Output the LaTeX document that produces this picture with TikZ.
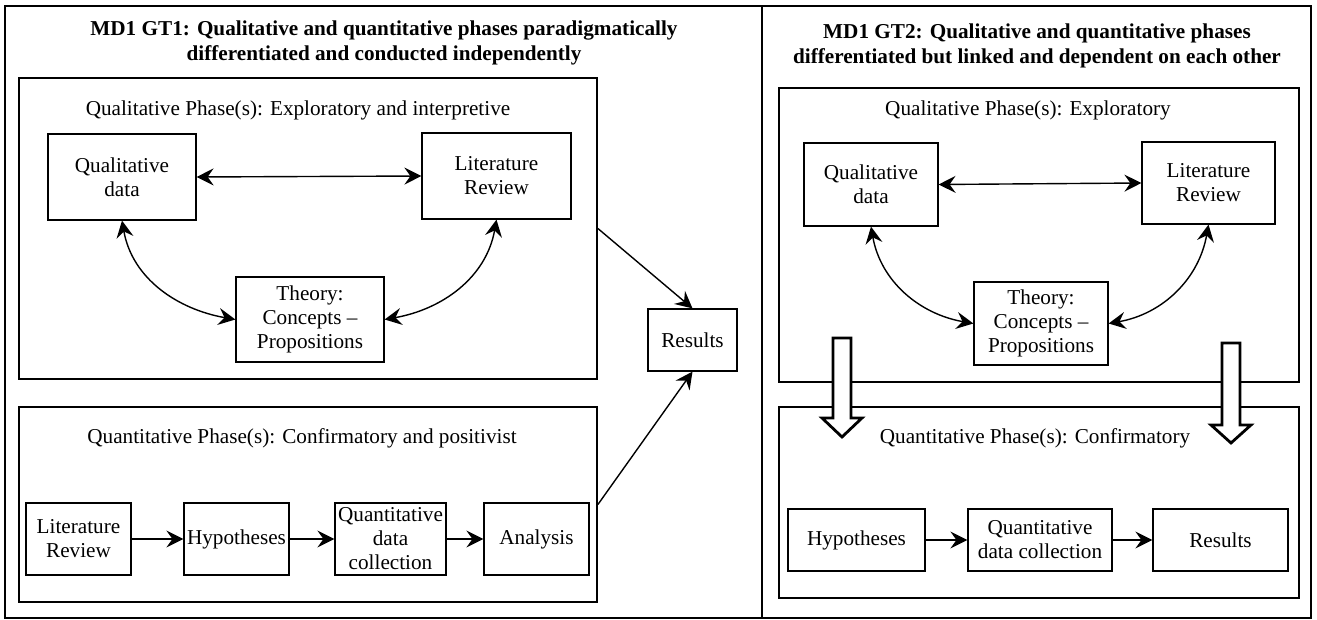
\documentclass[tikz,border=0pt]{standalone}
\usepackage{fontspec}
\setmainfont{Liberation Serif}
\usetikzlibrary{arrows.meta}

\begin{document}
\begin{tikzpicture}[x=0.5pt,y=-0.5pt,
    font=\fontsize{10.6}{12}\selectfont,
    >={Stealth[length=8.5pt,width=8.5pt,inset=3pt]},
    frame/.style={draw,line width=0.9pt,inner sep=0pt},
    box/.style={draw,line width=0.6pt,align=center,inner sep=1pt},
    heading/.style={font=\fontsize{10.6}{12.5}\selectfont\bfseries,align=center},
    conn/.style={line width=0.7pt},
    hollow/.style={draw,fill=white,line width=1.4pt,line join=miter}]
      \useasboundingbox (0,0) rectangle (1317,620);

      % outer frame and divider
      \draw[line width=0.9pt] (5,6) rectangle (1311,618);
      \draw[line width=0.9pt] (762,6) -- (762,618);

      % left panel: GT1
      \node[heading] (titleA) at (384,43) {MD1 GT1: Qualitative and quantitative phases paradigmatically\\differentiated and conducted independently};

      \node[frame, minimum width=289pt, minimum height=150.5pt] (qualA) at (308,228.5) {};
      \node (qualAlab) at (298,110) {Qualitative Phase(s): Exploratory and interpretive};
      \node[box, minimum width=74pt, minimum height=43pt] (qdA) at (122,177) {Qualitative\\data};
      \node[box, minimum width=74.5pt, minimum height=43pt] (litA) at (496.5,176) {Literature\\Review};
      \node[box, minimum width=74pt, minimum height=42.5pt] (thA) at (310,319.5) {Theory:\\Concepts --\\Propositions};

      \draw[conn,<->] (qdA.east) -- (litA.west);
      \draw[conn,<->] (qdA.south) to[out=-80,in=170] (thA.west);
      \draw[conn,<->] (litA.south) to[out=-100,in=10] (thA.east);

      \node[frame, minimum width=289pt, minimum height=97.5pt] (quantA) at (308,504.5) {};
      \node (quantAlab) at (302,438) {Quantitative Phase(s): Confirmatory and positivist};
      \node[box, minimum width=52.5pt, minimum height=36pt] (litqA) at (78.5,539) {Literature\\Review};
      \node[box, minimum width=52.5pt, minimum height=36pt, inner sep=0pt] (hypA) at (236.5,539) {Hypotheses};
      \node[box, minimum width=55.5pt, minimum height=36pt, inner sep=0pt] (qdcA) at (390.5,539) {Quantitative\\data\\collection};
      \node[box, minimum width=52.5pt, minimum height=36pt] (anaA) at (536.5,539) {Analysis};

      \draw[conn,->] (litqA) -- (hypA);
      \draw[conn,->] (hypA) -- (qdcA);
      \draw[conn,->] (qdcA) -- (anaA);

      \node[box, minimum width=44.5pt, minimum height=31pt] (resA) at (692.5,340) {Results};
      \draw[conn,->] (qualA.east) -- (resA.north);
      \draw[conn,->] (quantA.east) -- (resA.south);

      % right panel: GT2
      \node[heading] (titleB) at (1037,46) {MD1 GT2: Qualitative and quantitative phases\\differentiated but linked and dependent on each other};

      \node[frame, minimum width=260pt, minimum height=147pt] (qualB) at (1039,235) {};
      \node (qualBlab) at (1028,110) {Qualitative Phase(s): Exploratory};
      \node[box, minimum width=67pt, minimum height=41.5pt] (qdB) at (871,184.5) {Qualitative\\data};
      \node[box, minimum width=66.5pt, minimum height=41pt] (litB) at (1208.5,183) {Literature\\Review};
      \node[box, minimum width=67pt, minimum height=41.5pt] (thB) at (1041,323.5) {Theory:\\Concepts --\\Propositions};

      \draw[conn,<->] (qdB.east) -- (litB.west);
      \draw[conn,<->] (qdB.south) to[out=-80,in=170] (thB.west);
      \draw[conn,<->] (litB.south) to[out=-100,in=10] (thB.east);

      \node[frame, minimum width=260pt, minimum height=95.5pt] (quantB) at (1039,502.5) {};
      \node (quantBlab) at (1035,438) {Quantitative Phase(s): Confirmatory};
      \node[box, minimum width=68.5pt, minimum height=31pt] (hypB) at (856.5,540) {Hypotheses};
      \node[box, minimum width=72pt, minimum height=31pt] (qdcB) at (1040,540) {Quantitative\\data collection};
      \node[box, minimum width=67.5pt, minimum height=31pt] (resB) at (1220.5,540) {Results};

      \draw[conn,->] (hypB) -- (qdcB);
      \draw[conn,->] (qdcB) -- (resB);

      % hollow arrows from qualitative to quantitative phase
      \coordinate (blkL) at (842,338);
      \coordinate (blkR) at (1231,343);
      \draw[hollow] (blkL) ++(-9,0) -- ++(18,0) -- ++(0,80) -- ++(11,0) -- ++(-20,19) -- ++(-20,-19) -- ++(11,0) -- cycle;
      \draw[hollow] (blkR) ++(-9,0) -- ++(18,0) -- ++(0,82) -- ++(11,0) -- ++(-20,18) -- ++(-20,-18) -- ++(11,0) -- cycle;
    \end{tikzpicture}
\end{document}
